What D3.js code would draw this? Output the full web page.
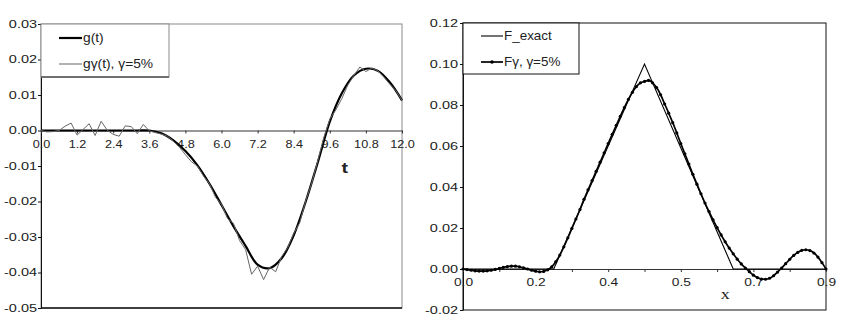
<!DOCTYPE html>
<html>
<head>
<meta charset="utf-8">
<script src="https://cdn.jsdelivr.net/npm/d3@7"></script>
<style>
  body { margin: 0; background: #fff; }
  svg { display: block; font-family: 'Liberation Sans', Arial, sans-serif; }
  text { fill: #222; }
</style>
</head>
<body>
<div id="chart"></div>
<script>
// left panel: g(t) and noisy g_gamma(t)
var gT = [0, 0.4, 0.8, 1.2, 1.6, 2.0, 2.4, 2.8, 3.2, 3.6, 4.0, 4.4, 4.8, 5.2, 5.6, 6.0,
  6.4, 6.8, 7.2, 7.6, 8.0, 8.4, 8.8, 9.2, 9.6, 10.0, 10.4, 10.8, 11.2, 11.6, 12.0]
var gVal = [0, 0, 0, 0, 0, 0, 0, 0, 0, 0, -0.0008, -0.0028, -0.0058, -0.0098, -0.0150, -0.0210,
  -0.0270, -0.0325, -0.0378, -0.0388, -0.0360, -0.0295, -0.0200, -0.0090, 0.0025, 0.0105,
  0.0155, 0.0174, 0.0168, 0.0135, 0.0085]

var noisyT = [0, 0.2, 0.4, 0.6, 0.8, 1.0, 1.2, 1.4, 1.6, 1.8, 2.0, 2.2, 2.4, 2.6, 2.8, 3.0,
  3.2, 3.4, 3.6, 3.8, 4.0, 4.2, 4.4, 4.6, 4.8, 5.0, 5.2, 5.4, 5.6, 5.8, 6.0, 6.2, 6.4, 6.6,
  6.8, 7.0, 7.2, 7.4, 7.6, 7.8, 8.0, 8.2, 8.4, 8.6, 8.8, 9.0, 9.2, 9.4, 9.6, 9.8, 10.0,
  10.2, 10.4, 10.6, 10.8, 11.0, 11.2, 11.4, 11.6, 11.8, 12.0]
var noisyVal = [0, -0.0004, -0.0003, 0, 0.0012, 0.0021, -0.0013, 0.0003, 0.0019, -0.0014,
  0.0026, 0.0001, -0.0011, -0.0016, 0.0013, 0.0011, -0.0009, 0.0017, -0.0001, -0.0006,
  -0.0010, -0.0016, -0.0030, -0.0047, -0.0068, -0.0088, -0.0100, -0.0128, -0.0150, -0.0188,
  -0.0208, -0.0248, -0.0262, -0.0310, -0.0335, -0.0405, -0.0382, -0.0420, -0.0385, -0.0398,
  -0.0355, -0.0330, -0.0290, -0.0260, -0.0198, -0.0148, -0.0085, -0.0020, 0.0032, 0.0058,
  0.0090, 0.0128, 0.0155, 0.0179, 0.0166, 0.0176, 0.0168, 0.0150, 0.0130, 0.0112, 0.0085]

var leftXTicks = [0, 1.2, 2.4, 3.6, 4.8, 6.0, 7.2, 8.4, 9.6, 10.8, 12.0]
var leftYTicks = [-0.05, -0.04, -0.03, -0.02, -0.01, 0, 0.01, 0.02, 0.03]

// right panel: exact triangle and regularized F
var exactX = [0, 0.225, 0.45, 0.67, 0.9]
var exactVal = [0, 0, 0.1, 0, 0]

var fgVal = [0, -0.0003, -0.0006, -0.0009, -0.0010, -0.0010, -0.0009, -0.0006, -0.0002, 0.0003,
  0.0008, 0.0012, 0.0014, 0.0014, 0.0011, 0.0006, 0.0000, -0.0006, -0.0011, -0.0014,
  -0.0012, -0.0004, 0.0010, 0.0035, 0.0068, 0.0108, 0.0152, 0.0198, 0.0244, 0.0290,
  0.0340, 0.0386, 0.0431, 0.0476, 0.0521, 0.0567, 0.0612, 0.0657, 0.0701, 0.0745,
  0.0787, 0.0827, 0.0862, 0.0890, 0.0908, 0.0915, 0.0920, 0.0908, 0.0885, 0.0850,
  0.0805, 0.0760, 0.0714, 0.0664, 0.0612, 0.0562, 0.0512, 0.0462, 0.0414, 0.0367,
  0.0322, 0.0280, 0.0240, 0.0202, 0.0166, 0.0133, 0.0102, 0.0074, 0.0048, 0.0025,
  0.0005, -0.0013, -0.0030, -0.0042, -0.0049, -0.0050, -0.0045, -0.0033, -0.0015, 0.0005,
  0.0026, 0.0047, 0.0066, 0.0081, 0.0091, 0.0094, 0.0090, 0.0078, 0.0058, 0.0031, 0.0000]
var fgX = fgVal.map((d, i) => i / 100)

var rightXTicks = [0, 0.09, 0.18, 0.27, 0.36, 0.45, 0.54, 0.63, 0.72, 0.81, 0.9]
var rightXLabels = [0, 0.18, 0.36, 0.54, 0.72, 0.9]
var rightYTicks = [-0.02, 0, 0.02, 0.04, 0.06, 0.08, 0.10, 0.12]


var svg = d3.select('#chart').append('svg')
  .attr('width', 845).attr('height', 327)

var fmt2 = d3.format('.2f')

// stretch axis labels sideways like the source image
function stretchLabels(g, sx, anchorX) {
  g.selectAll('.tick text')
    .attr('x', anchorX / sx)
    .attr('transform', `scale(${sx},1)`)
}

// ---------- left chart ----------
var lx = d3.scaleLinear().domain([0, 12]).range([41, 402])
var ly = d3.scaleLinear().domain([-0.05, 0.03]).range([308, 24])

var left = svg.append('g')

left.append('rect')
  .attr('x', lx(0)).attr('y', ly(0.03))
  .attr('width', lx(12) - lx(0)).attr('height', ly(-0.05) - ly(0.03))
  .attr('fill', 'none').attr('stroke', '#8a8a8a')

left.append('line')
  .attr('x1', lx(0)).attr('x2', lx(12)).attr('y1', ly(-0.05)).attr('y2', ly(-0.05))
  .attr('stroke', '#111').attr('stroke-width', 1.5)

var lyAxis = left.append('g')
  .attr('transform', `translate(${lx(0)},0)`)
  .call(d3.axisLeft(ly).tickValues(leftYTicks).tickFormat(fmt2).tickSize(3).tickSizeOuter(0))
lyAxis.select('.domain').attr('stroke', '#111')
lyAxis.selectAll('.tick line').attr('stroke', '#111')
lyAxis.selectAll('.tick text').attr('font-size', 10.5).attr('fill', '#222')
  .text(d => d < 0 ? '-' + fmt2(-d) : fmt2(d))
stretchLabels(lyAxis, 1.38, -4)

var lxAxis = left.append('g')
  .attr('transform', `translate(0,${ly(0)})`)
  .call(d3.axisBottom(lx).tickValues(leftXTicks).tickFormat(d3.format('.1f')).tickSize(3).tickSizeOuter(0).tickPadding(6))
lxAxis.select('.domain').attr('stroke', '#333')
lxAxis.selectAll('.tick line').attr('stroke', '#333')
lxAxis.selectAll('.tick text').attr('font-size', 11.5).attr('fill', '#333')
stretchLabels(lxAxis, 1.1, 0)

left.append('text')
  .attr('transform', `translate(${lx(10.1)},${ly(-0.012)}) scale(1.3,1)`)
  .attr('text-anchor', 'middle')
  .attr('font-size', 15).attr('font-weight', 'bold').attr('fill', '#222')
  .text('t')

var gLine = d3.line().x(d => lx(d[0])).y(d => ly(d[1]))

left.append('path')
  .datum(gT.map((t, i) => [t, gVal[i]]))
  .attr('d', gLine.curve(d3.curveCatmullRom))
  .attr('fill', 'none').attr('stroke', '#000').attr('stroke-width', 2.2)

left.append('path')
  .datum(noisyT.map((t, i) => [t, noisyVal[i]]))
  .attr('d', d3.line().x(d => lx(d[0])).y(d => ly(d[1])))
  .attr('fill', 'none').attr('stroke', '#666').attr('stroke-width', 1)

// legend
var lLeg = left.append('g')
lLeg.append('rect')
  .attr('x', 41).attr('y', 24).attr('width', 128).attr('height', 53)
  .attr('fill', '#fff').attr('stroke', '#8a8a8a')
lLeg.append('line')
  .attr('x1', 41).attr('x2', 169).attr('y1', 77).attr('y2', 77)
  .attr('stroke', '#555').attr('stroke-width', 1.5)

var lItems = [
  {label: 'g(t)', color: '#000', width: 2.2, y: 38},
  {label: 'gγ(t), γ=5%', color: '#666', width: 1, y: 64}
]
lItems.forEach(d => {
  lLeg.append('line')
    .attr('x1', 59).attr('x2', 82).attr('y1', d.y).attr('y2', d.y)
    .attr('stroke', d.color).attr('stroke-width', d.width)
  lLeg.append('text')
    .attr('transform', `translate(83,${d.y}) scale(1.15,1)`)
    .attr('dy', '.35em').attr('font-size', 12)
    .text(d.label)
})

// ---------- right chart ----------
var rx = d3.scaleLinear().domain([0, 0.9]).range([463, 826])
var ry = d3.scaleLinear().domain([-0.02, 0.12]).range([310, 23])

var right = svg.append('g')

right.append('rect')
  .attr('x', rx(0)).attr('y', ry(0.12))
  .attr('width', rx(0.9) - rx(0)).attr('height', ry(-0.02) - ry(0.12))
  .attr('fill', 'none').attr('stroke', '#111')

var ryAxis = right.append('g')
  .attr('transform', `translate(${rx(0)},0)`)
  .call(d3.axisLeft(ry).tickValues(rightYTicks).tickFormat(fmt2).tickSize(3).tickSizeOuter(0))
ryAxis.select('.domain').attr('stroke', '#111')
ryAxis.selectAll('.tick line').attr('stroke', '#111')
ryAxis.selectAll('.tick text').attr('font-size', 10.5).attr('fill', '#222')
  .text(d => d < 0 ? '-' + fmt2(-d) : fmt2(d))
stretchLabels(ryAxis, 1.38, -5)

var rxAxis = right.append('g')
  .attr('transform', `translate(0,${ry(0)})`)
  .call(d3.axisBottom(rx).tickValues(rightXTicks).tickSize(3).tickSizeOuter(0).tickPadding(6)
    .tickFormat(d => rightXLabels.indexOf(d) >= 0 ? d3.format('.1f')(d) : ''))
rxAxis.select('.domain').attr('stroke', '#333')
rxAxis.selectAll('.tick line').attr('stroke', '#333')
rxAxis.selectAll('.tick text').attr('font-size', 11).attr('fill', '#333')
stretchLabels(rxAxis, 1.25, 0)

right.append('text')
  .attr('transform', `translate(${rx(0.65)},${ry(-0.0145)}) scale(1.2,1)`)
  .attr('text-anchor', 'middle')
  .attr('font-family', "'Liberation Serif', 'Times New Roman', serif")
  .attr('font-size', 15).attr('fill', '#222')
  .text('x')

right.append('path')
  .datum(exactX.map((x, i) => [x, exactVal[i]]))
  .attr('d', d3.line().x(d => rx(d[0])).y(d => ry(d[1])))
  .attr('fill', 'none').attr('stroke', '#000').attr('stroke-width', 1.1)

var fgData = fgX.map((x, i) => [x, fgVal[i]])
right.append('path')
  .datum(fgData)
  .attr('d', d3.line().x(d => rx(d[0])).y(d => ry(d[1])).curve(d3.curveMonotoneX))
  .attr('fill', 'none').attr('stroke', '#000').attr('stroke-width', 1.7)

right.selectAll('circle.fg').data(fgData).join('circle')
  .attr('class', 'fg')
  .attr('cx', d => rx(d[0])).attr('cy', d => ry(d[1]))
  .attr('r', 1.6).attr('fill', '#000')

// legend
var rLeg = right.append('g')
rLeg.append('rect')
  .attr('x', 463).attr('y', 23).attr('width', 116).attr('height', 51)
  .attr('fill', '#fff').attr('stroke', '#111')

var rItems = [
  {label: 'F_exact', width: 1.1, y: 36, dot: false},
  {label: 'Fγ, γ=5%', width: 1.7, y: 62, dot: true}
]
rItems.forEach(d => {
  rLeg.append('line')
    .attr('x1', 481).attr('x2', 503).attr('y1', d.y).attr('y2', d.y)
    .attr('stroke', '#000').attr('stroke-width', d.width)
  if (d.dot) rLeg.append('circle').attr('cx', 492).attr('cy', d.y).attr('r', 1.8).attr('fill', '#000')
  rLeg.append('text')
    .attr('transform', `translate(504,${d.y}) scale(1.12,1)`)
    .attr('dy', '.35em').attr('font-size', 12)
    .text(d.label)
})
</script>
</body>
</html>
